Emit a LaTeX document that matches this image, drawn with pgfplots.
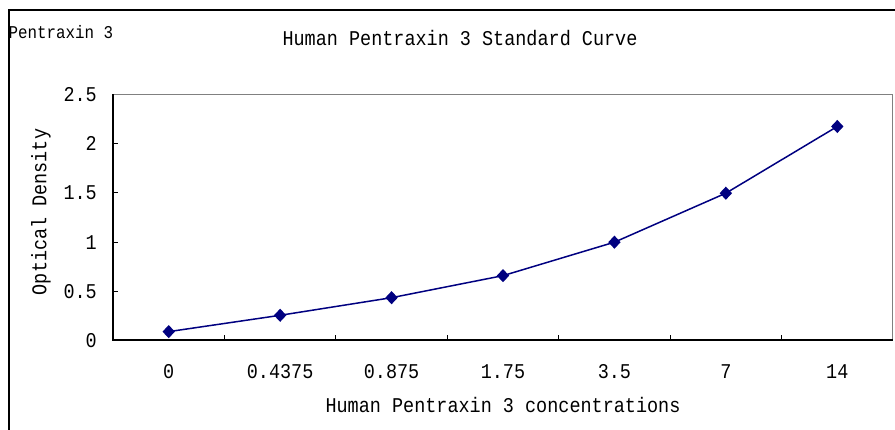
\documentclass[border=0pt]{standalone}
\usepackage{fontspec}
\setmainfont{Liberation Mono}[FakeStretch=0.88]
\usepackage{pgfplots}
\pgfplotsset{compat=1.18}
\definecolor{navy}{HTML}{000080}
\begin{document}
\begin{tikzpicture}[x=1pt,y=1pt]
\path[use as bounding box] (0,0) rectangle (895,430);
\draw[line width=2pt] (8.5,0) -- (8.5,419.5) -- (895,419.5);
\node[font=\fontsize{18}{20}\selectfont, anchor=west, inner sep=0pt] at (8.5,398) {Pentraxin 3};
\node[font=\fontsize{21}{24}\selectfont, inner sep=0pt] at (460,392) {Human Pentraxin 3 Standard Curve};
\begin{axis}[at={(113pt,89.5pt)}, anchor=south west, width=780pt, height=246pt, scale only axis,
  clip=false,
  xmin=-0.5, xmax=6.5, ymin=0, ymax=2.5,
  xtick={0.5,1.5,2.5,3.5,4.5,5.5}, xticklabels={},
  extra x ticks={0,1,2,3,4,5,6},
  extra x tick labels={0,0.4375,0.875,1.75,3.5,7,14},
  extra x tick style={major tick length=0pt},
  ytick={0,0.5,1,1.5,2,2.5}, yticklabels={0,0.5,1,1.5,2,2.5},
  tick align=inside, major tick length=5pt,
  xtick pos=bottom, ytick pos=left,
  tick style={black, line width=1pt},
  axis line style={gray, line width=1pt},
  ticklabel style={font=\fontsize{21}{24}\selectfont, inner sep=0pt},
  xticklabel style={anchor=center, yshift=-31.5pt},
  yticklabel style={anchor=east, xshift=-16pt},
]
\addplot[navy, line width=1.5pt, mark=diamond*, mark size=5.5pt, mark options={solid, fill=navy, xscale=1.25}]
  coordinates {(0,0.09) (1,0.256) (2,0.435) (3,0.659) (4,0.999) (5,1.497) (6,2.175)};
\draw[black, line width=2pt] (rel axis cs:0,1) -- (rel axis cs:0,0) -- (rel axis cs:1,0);
\end{axis}
\node[font=\fontsize{21}{24}\selectfont, inner sep=0pt, rotate=90] at (41,218) {Optical Density};
\node[font=\fontsize{21}{24}\selectfont, inner sep=0pt] at (503,25) {Human Pentraxin 3 concentrations};
\end{tikzpicture}
\end{document}
